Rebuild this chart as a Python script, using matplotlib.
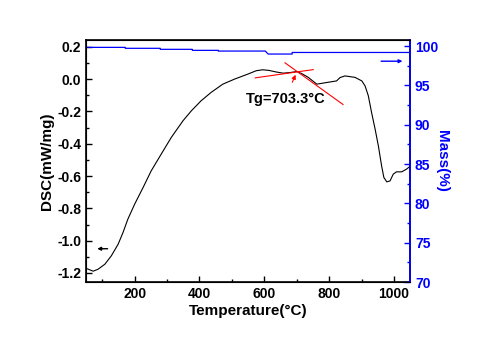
import numpy as np
import matplotlib.pyplot as plt
from matplotlib.ticker import MultipleLocator

plt.rcParams["font.family"] = ["Liberation Sans", "DejaVu Sans"]
plt.rcParams["font.weight"] = "bold"

# DSC heat flow curve
temp_dsc = [51, 72, 87, 108, 128, 149, 164, 179, 200, 226, 251, 282, 313, 349,
            375, 405, 436, 472, 508, 549, 575, 595, 615, 635, 658, 680, 700,
            715, 735, 762, 792, 823, 834, 849, 880, 901, 911, 921, 931, 942,
            952, 962, 969, 978, 988, 998, 1008, 1024, 1039, 1049]
dsc = [-1.172, -1.189, -1.177, -1.146, -1.094, -1.022, -0.950, -0.867, -0.774,
       -0.671, -0.568, -0.464, -0.361, -0.258, -0.196, -0.134, -0.082, -0.031,
       0.000, 0.031, 0.052, 0.058, 0.054, 0.045, 0.037, 0.041, 0.047, 0.035,
       0.012, -0.031, -0.021, -0.011, 0.010, 0.020, 0.011, -0.011, -0.042,
       -0.103, -0.206, -0.310, -0.413, -0.537, -0.609, -0.636, -0.630, -0.588,
       -0.574, -0.574, -0.557, -0.541]

# TG mass curve (stepped)
temp_tg = [51, 171, 171, 279, 279, 378, 378, 458, 458, 603, 612, 686, 686, 1050]
mass = [99.85, 99.85, 99.73, 99.73, 99.60, 99.60, 99.47, 99.47, 99.38, 99.38,
        99.0, 99.0, 99.2, 99.2]

# tangent construction for Tg
tan1_t = [572, 751]
tan1_d = [0.008, 0.059]
tan2_t = [664, 843]
tan2_d = [0.101, -0.157]
tg_value = 703.3

fig = plt.figure(figsize=(4.78, 3.41), dpi=100)
ax = fig.add_axes([0.180, 0.173, 0.678, 0.710])

ax.plot(temp_dsc, dsc, color="black", lw=0.8)
ax.plot(tan1_t, tan1_d, color="red", lw=0.8)
ax.plot(tan2_t, tan2_d, color="red", lw=0.8)
ax.annotate("", xy=(700, 0.043), xytext=(683, -0.035),
            arrowprops=dict(arrowstyle="-|>", color="red", lw=0.8,
                            mutation_scale=6))
ax.text(665, -0.125, f"Tg={tg_value}°C", fontsize=10.5, fontweight="bold",
        ha="center", va="center")
ax.annotate("", xy=(76, -1.05), xytext=(125, -1.05),
            arrowprops=dict(arrowstyle="-|>", color="black", lw=1,
                            mutation_scale=5))

ax.set_xlim(50, 1050)
ax.set_ylim(-1.256, 0.243)
ax.xaxis.set_major_locator(MultipleLocator(200))
ax.xaxis.set_minor_locator(MultipleLocator(100))
ax.yaxis.set_major_locator(MultipleLocator(0.2))
ax.yaxis.set_minor_locator(MultipleLocator(0.1))
ax.yaxis.set_major_formatter(plt.FuncFormatter(lambda v, p: f"{v:.1f}"))
ax.tick_params(which="both", direction="in", top=False, right=False,
               labelsize=10, width=1)
ax.tick_params(which="major", length=4)
ax.tick_params(which="minor", length=2)
ax.set_xlabel("Temperature(°C)", fontsize=11, fontweight="bold", labelpad=2)
ax.set_ylabel("DSC(mW/mg)", fontsize=11, fontweight="bold", labelpad=2)
for s in ax.spines.values():
    s.set_linewidth(1.2)

ax2 = ax.twinx()
ax2.plot(temp_tg, mass, color="blue", lw=0.9)
ax2.annotate("", xy=(1035, 98.09), xytext=(952, 98.09),
             arrowprops=dict(arrowstyle="-|>", color="blue", lw=1,
                             mutation_scale=5))
ax2.set_ylim(70, 100.8)
ax2.yaxis.set_major_locator(MultipleLocator(5))
ax2.yaxis.set_minor_locator(MultipleLocator(2.5))
ax2.tick_params(which="both", direction="in", colors="blue", labelsize=10,
                width=1)
ax2.tick_params(which="major", length=4)
ax2.tick_params(which="minor", length=2)
ax2.spines["right"].set_color("blue")
ax2.spines["right"].set_linewidth(1.2)
ax2.set_ylabel("Mass(%)", color="blue", fontsize=11, fontweight="bold",
               rotation=270, labelpad=8)

fig.savefig("out.png", dpi=100)
